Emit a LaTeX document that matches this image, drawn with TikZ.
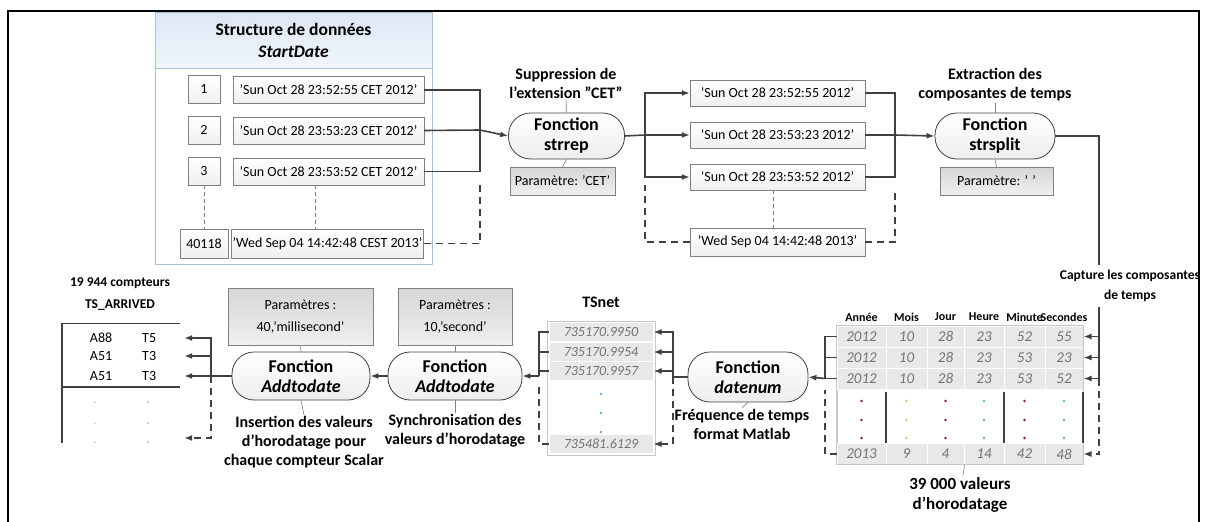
\documentclass[tikz,border=0pt]{standalone}
\usepackage{fontspec}
\setmainfont{Carlito}
\usetikzlibrary{arrows.meta,positioning,calc}
\definecolor{linegray}{RGB}{64,64,64}
\definecolor{boxgray}{RGB}{128,128,128}
\definecolor{panelblue}{RGB}{170,190,215}
\definecolor{headblue}{RGB}{220,231,245}
\definecolor{cellgray}{RGB}{232,232,232}
\definecolor{numgray}{RGB}{115,115,115}
\definecolor{dotred}{RGB}{120,40,35}
\definecolor{dotorange}{RGB}{235,185,110}
\definecolor{dotblue}{RGB}{100,170,230}

\begin{document}
\begin{tikzpicture}[x=1pt,y=-1pt,
    wire/.style={draw=linegray, line width=1.6pt},
    flow/.style={wire, -{Latex[length=8pt,width=6pt]}},
    dashwire/.style={draw=linegray, line width=1.2pt, dash pattern=on 7pt off 5pt},
    dashflow/.style={dashwire, -{Latex[length=8pt,width=6pt]}},
    tick/.style={draw=boxgray, line width=0.6pt},
    strbox/.style={draw=boxgray, top color=white, bottom color=gray!12, minimum width=191pt,
                   minimum height=27pt, inner sep=1pt, font=\fontsize{14}{15}\selectfont},
    idxbox/.style={strbox, minimum width=32pt, minimum height=28pt},
    func/.style={draw=linegray, line width=0.8pt, rounded corners=22pt, top color=white,
                 bottom color=gray!14, align=center, minimum width=116pt, minimum height=46pt,
                 inner sep=1pt, font=\bfseries\fontsize{18}{20}\selectfont},
    parbox/.style={draw=boxgray, top color=gray!32, bottom color=gray!12, align=center,
                   inner sep=2pt, font=\fontsize{14}{22}\selectfont},
    lbl/.style={align=center, inner sep=1pt, font=\bfseries\fontsize{16}{19}\selectfont},
    cell/.style={draw=white, line width=1pt, fill=cellgray, text=numgray, inner sep=0pt,
                 minimum height=21pt, font=\itshape\fontsize{15}{16}\selectfont},
    hdr/.style={inner sep=0pt, font=\bfseries\fontsize{12}{13}\selectfont},
    row/.style={inner sep=0pt, minimum width=122pt, minimum height=18pt,
                font=\fontsize{14}{15}\selectfont}]
  \useasboundingbox (0,0) rectangle (1208,522);
  % frame
  \draw[line width=2.2pt] (8,522) -- (8,11) -- (1199,11) -- (1199,522);

  % data structure StartDate
  \node[draw=panelblue, fill=white, minimum width=277pt, minimum height=252pt] (sdata) at (293.5,138) {};
  \node[draw=panelblue, top color=headblue, bottom color=headblue!40, minimum width=277pt,
        minimum height=56pt, anchor=north, align=center, font=\bfseries\fontsize{17.5}{22}\selectfont]
        (sdatahead) at (sdata.north) {Structure de données\\\textit{StartDate}};
  \node[idxbox] (idx1) at (204,89) {1};
  \node[idxbox] (idx2) at (204,130) {2};
  \node[idxbox] (idx3) at (204,171) {3};
  \node[idxbox, minimum width=48pt, minimum height=29pt] (idx4) at (204,243.5) {40118};
  \node[strbox] (str1) at (328.5,90) {'Sun Oct 28 23:52:55 CET 2012'};
  \node[strbox] (str2) at (328.5,130.5) {'Sun Oct 28 23:53:23 CET 2012'};
  \node[strbox] (str3) at (328.5,171.5) {'Sun Oct 28 23:53:52 CET 2012'};
  \node[strbox, minimum width=189pt, minimum height=29pt] (str4) at (327.5,243.5) {'Wed Sep 04 14:42:48 CEST 2013'};
  \draw[tick, dash pattern=on 4pt off 3pt] (idx3) -- (idx4);
  \draw[tick, dash pattern=on 4pt off 3pt] ($(str3.south)+(-13,0)$) -- ($(str4.north)+(-12,0)$);

  % first strrep
  \coordinate (j1) at (480,130);
  \coordinate (j1d) at (480,185);
  \node[lbl] (t1) at (566,83) {Suppression de\\l'extension "CET"};
  \node[func] (f1) at (566.5,136) {Fonction\\strrep};
  \node[parbox, minimum width=105pt, minimum height=28pt] (p1) at (562.5,181) {Paramètre: 'CET'};
  \draw[tick] (t1) -- (f1);
  \draw[tick] (f1.south) -- (p1.north);
  \draw[wire] (str1.east) -| (j1);
  \draw[wire] (str2.east) -- (j1);
  \draw[wire] (str3.east) -| (j1);
  \draw[dashwire] (str4.east) -| (j1d);
  \draw[flow] (j1) -- (f1.west);

  % strings without extension
  \coordinate (j2) at (645,135);
  \coordinate (j2d) at (645,185);
  \node[strbox, minimum width=175pt, minimum height=26pt] (s1) at (777.5,93) {'Sun Oct 28 23:52:55 2012'};
  \node[strbox, minimum width=175pt, minimum height=26pt] (s2) at (777.5,135) {'Sun Oct 28 23:53:23 2012'};
  \node[strbox, minimum width=175pt, minimum height=26pt] (s3) at (777.5,177) {'Sun Oct 28 23:53:52 2012'};
  \node[strbox, minimum width=175pt, minimum height=28pt] (s4) at (777.5,242) {'Wed Sep 04 14:42:48 2013'};
  \draw[tick, dash pattern=on 4pt off 3pt] ($(s3.south)+(-4,0)$) -- ($(s4.north)+(-4,0)$);
  \draw[wire] (f1.east) -- (j2);
  \draw[flow] (j2) |- (s1.west);
  \draw[flow] (j2) -- (s2.west);
  \draw[flow] (j2) |- (s3.west);
  \draw[dashwire] (s4.west) -| (j2d);

  % second function
  \coordinate (j3) at (895,135);
  \coordinate (j3d) at (895,190);
  \node[lbl] (t2) at (995,85) {Extraction des\\composantes de temps};
  \node[func, minimum width=120pt] (f2) at (995,136) {Fonction\\strsplit};
  \node[parbox, minimum width=113pt, minimum height=28pt] (p2) at (996.5,181) {Paramètre: ' '};
  \draw[tick] (t2) -- (f2);
  \draw[tick] (f2.south) -- (p2.north);
  \draw[wire] (s1.east) -| (j3);
  \draw[wire] (s2.east) -- (j3);
  \draw[wire] (s3.east) -| (j3);
  \draw[dashwire] (s4.east) -| (j3d);
  \draw[flow] (j3) -- (f2.west);

  % capture
  \coordinate (c1) at (1099,265);
  \coordinate (c2) at (1099,307);
  \coordinate (c3) at (1099,378.5);
  \node[lbl, font=\bfseries\fontsize{13.5}{20}\selectfont] (cap) at (1130,286) {Capture les composantes\\de temps};
  \draw[wire] (f2.east) -| (c1);

  % table of time components
  \node[draw=gray!40, fill=white, minimum width=246pt, minimum height=54pt] (tbdots) at (960,416) {};
  \foreach \h [count=\c] in {Année,Mois,Jour,Heure,Minute,Secondes}{
    \pgfmathsetmacro\cx{{861.5,906.5,945.5,984,1024.5,1064}[\c-1]}
    \node[hdr] (hd-\c) at (\cx,317) {\h};
  }
  \foreach \r/\cy/\vals in {1/336.5/{2012,10,28,23,52,55},2/357.5/{2012,10,28,23,53,23},
                            3/378.5/{2012,10,28,23,53,52},4/454/{2013,9,4,14,42,48}}{
    \foreach \v [count=\c] in \vals {
      \pgfmathsetmacro\cx{{861.5,906.5,945.5,984,1024.5,1064}[\c-1]}
      \pgfmathsetmacro\cw{{49,41,37,40,41,38}[\c-1]}
      \node[cell, minimum width=\cw pt] (tb-\r-\c) at (\cx,\cy) {\v};
    }
  }
  \draw[gray!45] (836.5,325.5) rectangle (1083.5,464.5);
  \foreach \x in {886,1004,1083} \draw[linegray, line width=1.2pt] (\x,392) -- (\x,443);
  \foreach \x/\col in {861.5/dotred,906.5/dotorange,945.5/dotred,984/dotblue,1024.5/dotred,1064/dotblue}
    \foreach \y in {401,420,438} \fill[\col] (\x,\y) circle (1.3pt);
  \node[lbl, font=\bfseries\fontsize{17}{20}\selectfont] (t6) at (960,495) {39 000 valeurs\\d'horodatage};
  \draw[tick] (tb-4-3.south east) -- (t6);
  \draw[flow] (c2) |- (tb-1-6.east);
  \draw[flow] (c2) |- (tb-2-6.east);
  \draw[flow] (c2) |- (tb-3-6.east);
  \draw[dashflow] (c3) |- (tb-4-6.east);

  % datenum
  \coordinate (j4) at (825,378.5);
  \coordinate (j4d) at (825,390);
  \node[func, minimum width=120pt, minimum height=50pt] (f3) at (748,377) {Fonction\\\textit{datenum}};
  \node[lbl] (t3) at (742,424) {Fréquence de temps\\format Matlab};
  \draw[tick] (f3.south) -- (t3.north);
  \draw[wire] (tb-1-1.west) -| (j4);
  \draw[wire] (tb-2-1.west) -| (j4);
  \draw[wire] (tb-3-1.west) -- (j4);
  \draw[dashwire] (tb-4-1.west) -| (j4d);
  \draw[flow] (j4) -- (f3.east);

  % TSnet column
  \coordinate (j5) at (673,377);
  \node[lbl] (t7) at (601,302) {TSnet};
  \node[draw=gray!45, fill=white, minimum width=108pt, minimum height=134pt] (tscol) at (601,388) {};
  \node[cell, minimum width=104pt, minimum height=19pt, font=\itshape\fontsize{14}{15}\selectfont] (ts1) at (601,332) {735170.9950};
  \node[cell, minimum width=104pt, minimum height=19pt, font=\itshape\fontsize{14}{15}\selectfont] (ts2) at (601,352) {735170.9954};
  \node[cell, minimum width=104pt, minimum height=19pt, font=\itshape\fontsize{14}{15}\selectfont] (ts3) at (601,371) {735170.9957};
  \node[cell, minimum width=104pt, minimum height=19pt, font=\itshape\fontsize{14}{15}\selectfont] (ts4) at (601,444) {735481.6129};
  \foreach \y in {394,413,432} \fill[dotblue] (601,\y) circle (1.3pt);
  \draw[wire] (f3.west) -- (j5);
  \draw[flow] (j5) |- (ts1.east);
  \draw[flow] (j5) |- (ts2.east);
  \draw[flow] (j5) |- (ts3.east);
  \draw[dashflow] (j5) |- (ts4.east);

  % synchronisation
  \coordinate (j6) at (539,376);
  \coordinate (j6d) at (539,386);
  \node[func, minimum width=134pt, minimum height=48pt] (f4) at (455,376) {Fonction\\\textit{Addtodate}};
  \node[parbox, minimum width=114pt, minimum height=57pt] (p4) at (455,316.5) {Paramètres :\\10,'second'};
  \node[lbl] (t4) at (455,431) {Synchronisation des\\valeurs d'horodatage};
  \draw[tick] (p4.south) -- (f4.north);
  \draw[tick] (f4.south) -- (t4.north);
  \draw[wire] (ts1.west) -| (j6);
  \draw[wire] (ts2.west) -| (j6);
  \draw[wire] (ts3.west) -| (j6);
  \draw[dashwire] (ts4.west) -| (j6d);
  \draw[flow] (j6) -- (f4.east);

  % insertion
  \coordinate (j7) at (211,376);
  \node[func, minimum width=138pt, minimum height=48pt] (f5) at (301,376) {Fonction\\\textit{Addtodate}};
  \node[parbox, minimum width=145pt, minimum height=57pt] (p5) at (300.5,316.5) {Paramètres :\\40,'millisecond'};
  \node[lbl] (t5) at (304,442) {Insertion des valeurs\\d'horodatage pour\\chaque compteur Scalar};
  \draw[tick] (p5.south) -- (f5.north);
  \draw[tick] (f5.south) -- (t5.north);
  \draw[flow] (f4.west) -- (f5.east);

  % result table
  \node[lbl, font=\bfseries\fontsize{13.5}{22}\selectfont] (t8) at (120,294) {19 944 compteurs\\TS\_ARRIVED};
  \draw[linegray, line width=1.2pt] (62,323) -- (62,443);
  \draw[linegray, line width=1pt] (62,323) -- (180,323);
  \draw[linegray, line width=1.6pt] (62,387) -- (180,387);
  \node[row] (lr1) at (123,338) {A88\hspace{30pt}T5};
  \node[row] (lr2) at (123,356) {A51\hspace{30pt}T3};
  \node[row] (lr3) at (123,376) {A51\hspace{30pt}T3};
  \node[row] (lr4) at (123,438) {};
  \foreach \y in {402,423,442} {\fill[gray!40] (95,\y) circle (1pt); \fill[gray!60] (148,\y) circle (1pt);}
  \draw[wire] (f5.west) -- (j7);
  \draw[flow] (j7) |- (lr1.east);
  \draw[flow] (j7) |- (lr2.east);
  \draw[flow] (j7) -- (lr3.east);
  \draw[dashflow] (j7) |- (lr4.east);
\end{tikzpicture}
\end{document}
